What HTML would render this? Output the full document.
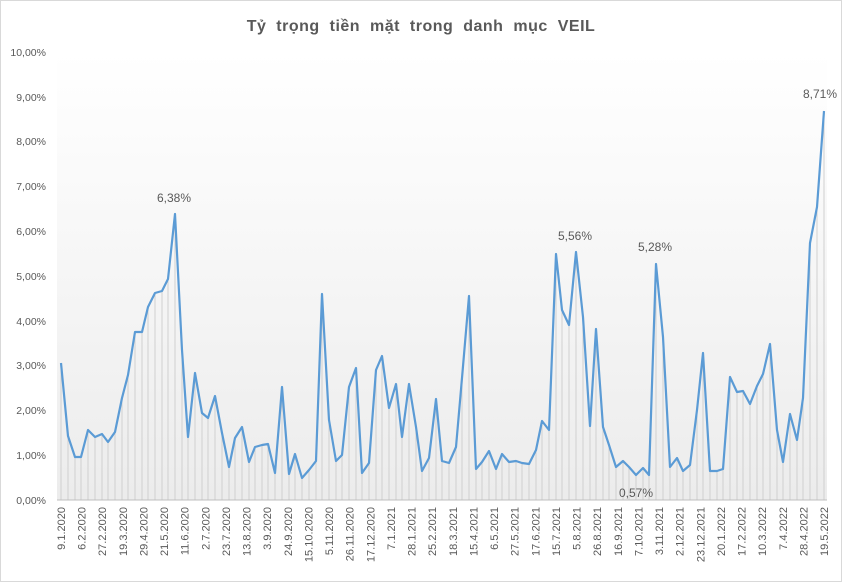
<!DOCTYPE html>
<html><head><meta charset="utf-8"><style>
body{margin:0;background:#fff}
svg{display:block;font-family:"Liberation Sans",sans-serif}
</style></head><body>
<svg width="842" height="582" viewBox="0 0 842 582" xmlns="http://www.w3.org/2000/svg">
<defs><linearGradient id="g" x1="0" y1="0" x2="0" y2="1"><stop offset="0" stop-color="#ffffff"/><stop offset="1" stop-color="#ececec"/></linearGradient></defs>
<rect x="0.5" y="0.5" width="841" height="581" fill="#fff" stroke="#d9d9d9"/>
<rect x="57" y="52" width="770" height="448" fill="url(#g)"/>
<text x="421" y="31" text-anchor="middle" font-size="16" font-weight="bold" fill="#595959" letter-spacing="0.5" word-spacing="5">Tỷ trọng tiền mặt trong danh mục VEIL</text>
<g font-size="10.5" fill="#595959" text-anchor="end">
<text x="46" y="504">0,00%</text><text x="46" y="459">1,00%</text><text x="46" y="414">2,00%</text><text x="46" y="369">3,00%</text><text x="46" y="325">4,00%</text><text x="46" y="280">5,00%</text><text x="46" y="235">6,00%</text><text x="46" y="190">7,00%</text><text x="46" y="145">8,00%</text><text x="46" y="101">9,00%</text><text x="46" y="56">10,00%</text>
</g>
<g id="drops" stroke="#d0d0d0" stroke-width="1"></g>
<line x1="57" y1="500" x2="827" y2="500" stroke="#bfbfbf"/>
<polyline id="ln" fill="none" stroke="#5b9bd5" stroke-width="2.2" stroke-linejoin="round"/>
<g id="xl" font-size="11" fill="#595959"></g>
<g font-size="12" fill="#595959" text-anchor="middle">
<text x="174" y="202">6,38%</text><text x="575" y="240">5,56%</text><text x="655" y="251">5,28%</text><text x="636" y="497">0,57%</text><text x="820" y="98">8,71%</text>
</g>
<script>
var p=[[61,363],[68,436],[75,457],[81,457],[88,430],[95,437],[102,434],[108,442],[115,432],[122,398],[128,375],[135,332],[142,332],[148,307],[155,293],[162,291],[168,279],[175,214],[182,350],[188,437],[195,373],[202,413],[208,418],[215,396],[222,433],[229,467],[235,438],[242,427],[249,462],[255,447],[262,445],[268,444],[275,473],[282,387],[289,474],[295,454],[302,478],[309,470],[316,461],[322,294],[329,420],[336,461],[342,455],[349,387],[356,368],[362,473],[369,463],[376,370],[382,356],[389,408],[396,384],[402,437],[409,384],[416,427],[422,471],[429,458],[436,399],[442,461],[449,463],[456,447],[462,378],[469,296],[476,469],[482,462],[489,451],[496,469],[502,454],[509,462],[516,461],[522,463],[529,464],[536,450],[542,421],[549,430],[556,254],[562,310],[569,325],[576,252],[583,317],[590,426],[596,329],[603,427],[609,445],[616,467],[623,461],[629,467],[636,475],[643,468],[649,475],[656,264],[663,337],[670,467],[677,458],[683,471],[690,465],[697,410],[703,353],[710,471],[717,471],[723,469],[730,377],[737,392],[743,391],[750,404],[757,386],[763,374],[770,344],[777,430],[783,462],[790,414],[797,440],[803,398],[810,243],[817,207],[824,111]];
var NS="http://www.w3.org/2000/svg",d=document.getElementById("drops"),s="";
p.forEach(function(q){var l=document.createElementNS(NS,"line");l.setAttribute("x1",q[0]);l.setAttribute("x2",q[0]);l.setAttribute("y1",q[1]);l.setAttribute("y2",500);d.appendChild(l);s+=q[0]+","+q[1]+" ";});
document.getElementById("ln").setAttribute("points",s);
var L="9.1.2020,6.2.2020,27.2.2020,19.3.2020,29.4.2020,21.5.2020,11.6.2020,2.7.2020,23.7.2020,13.8.2020,3.9.2020,24.9.2020,15.10.2020,5.11.2020,26.11.2020,17.12.2020,7.1.2021,28.1.2021,25.2.2021,18.3.2021,15.4.2021,6.5.2021,27.5.2021,17.6.2021,15.7.2021,5.8.2021,26.8.2021,16.9.2021,7.10.2021,3.11.2021,2.12.2021,23.12.2021,20.1.2022,17.2.2022,10.3.2022,7.4.2022,28.4.2022,19.5.2022".split(","),g=document.getElementById("xl");
L.forEach(function(t,i){var x=61+i*(824-61)/37;var e=document.createElementNS(NS,"text");e.setAttribute("transform","translate("+(x+4)+",507) rotate(-90)");e.setAttribute("text-anchor","end");e.textContent=t;g.appendChild(e);});
</script>
</svg>
</body></html>
